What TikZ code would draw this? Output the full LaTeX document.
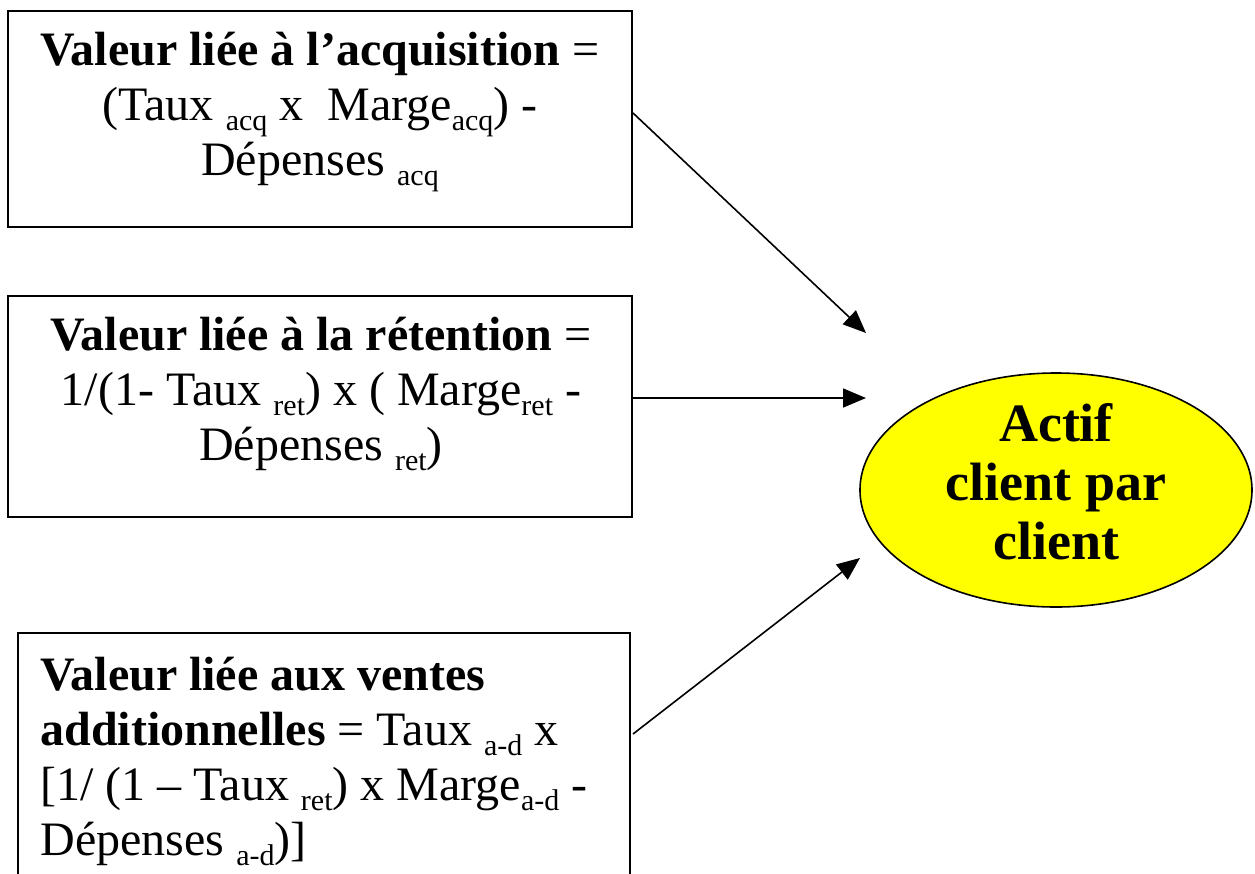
\documentclass[tikz,border=0pt]{standalone}
\usepackage{fontspec}
\setmainfont{Liberation Serif}
\usetikzlibrary{arrows.meta,shapes.geometric}
\definecolor{ylw}{RGB}{255,255,0}
\newcommand{\lo}[1]{\raisebox{-5pt}{\fontsize{15}{15}\selectfont #1}}
\begin{document}
\begin{tikzpicture}[x=0.5pt,y=-0.5pt,
  boxnode/.style={draw, line width=1pt, inner sep=0pt},
  txt/.style={inner sep=0pt, font=\fontsize{24}{27.5}\selectfont},
  arr/.style={line width=0.8pt, -{Triangle[length=11.5pt,width=9.5pt]}},
  goal/.style={ellipse, draw, line width=0.8pt, fill=ylw, inner sep=0pt,
    minimum width=196pt, minimum height=117pt}]
\useasboundingbox (0,0) rectangle (1255,874);
\clip (0,0) rectangle (1255,874);
% boxes
\node[boxnode, minimum width=312pt, minimum height=108pt] (b1) at (320,119) {};
\node[boxnode, minimum width=312pt, minimum height=110.5pt] (b2) at (320,406.5) {};
\node[boxnode, minimum width=306pt, minimum height=133.5pt] (b3) at (324,766.5) {};
% texts
\node[txt, align=center, anchor=north] (t1) at (320,32)
  {\textbf{Valeur liée à l’acquisition} =\\
   (Taux \lo{acq} x~~Marge\lo{acq}) -\\
   Dépenses \lo{acq}};
\node[txt, align=center, anchor=north] (t2) at (321,317)
  {\textbf{Valeur liée à la rétention} =\\
   1/(1- Taux \lo{ret}) x ( Marge\lo{ret} -\\
   Dépenses \lo{ret})};
\node[txt, align=left, anchor=north west] (t3) at (40,657)
  {\textbf{Valeur liée aux ventes}\\
   \textbf{additionnelles} = Taux \lo{a-d} x\\
   {[}1/ (1 – Taux \lo{ret}) x Marge\lo{a-d} -\\
   Dépenses \lo{a-d})]};
% ellipse
\node[goal] (g) at (1056,490) {};
\node[inner sep=0pt, align=center, anchor=north,
  font=\fontsize{27}{29.5}\selectfont\bfseries] (gt) at (1056,403)
  {Actif\\client par\\client};
% arrow ends
\coordinate (e1) at (866,333);
\coordinate (e2) at (866,398);
\coordinate (e3) at (860,558);
\draw[arr] ([yshift=3pt]b1.east) -- (e1);
\draw[arr] ([yshift=4.25pt]b2.east) -- (e2);
\draw[arr] ([yshift=-51pt,xshift=1pt]b3.north east) -- (e3);
\end{tikzpicture}
\end{document}
